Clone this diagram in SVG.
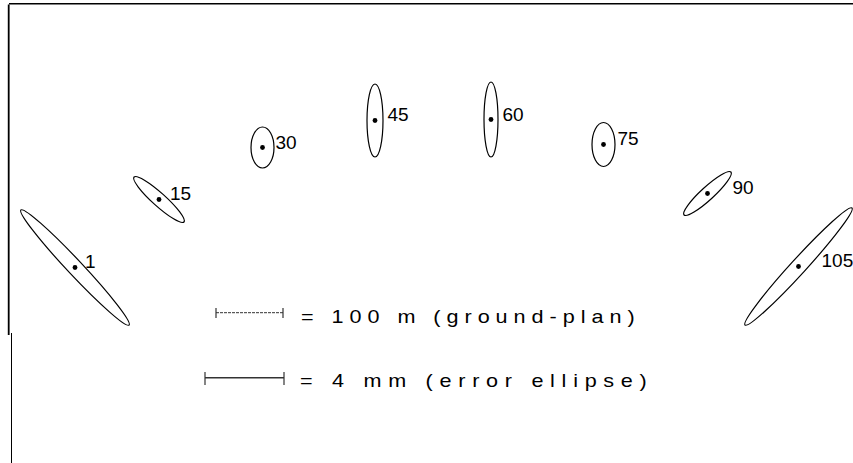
<svg xmlns="http://www.w3.org/2000/svg" width="853" height="463" viewBox="0 0 853 463">
<style>
.el{fill:none;stroke:#000;stroke-width:1.2}
.dot{fill:#000}
.lbl{font-family:"Liberation Sans",Arial,sans-serif;font-size:19px;fill:#000}
.leg{font-family:"Liberation Sans",Arial,sans-serif;font-size:18px;fill:#000}
.frame{stroke:#000;fill:none}
.bar{stroke:#333;fill:none}
</style>
<rect width="853" height="463" fill="#fff"/>
<g id="frame">
<line class="frame" x1="9" y1="3.8" x2="853" y2="3.8" stroke-width="1.6"/>
<line class="frame" x1="8.7" y1="4.5" x2="8.7" y2="335" stroke-width="1.8"/>
<line class="frame" x1="11.5" y1="333" x2="11.5" y2="463" stroke-width="1"/>
</g>
<g id="p1">
<ellipse class="el" cx="75" cy="267.5" rx="79" ry="7.5" transform="rotate(46.8 75 267.5)"/>
<circle class="dot" cx="75" cy="267.5" r="2.4"/>
<text class="lbl" x="85" y="268">1</text>
</g>
<g id="p15">
<ellipse class="el" cx="159" cy="199.5" rx="33.6" ry="6.5" transform="rotate(42 159 199.5)"/>
<circle class="dot" cx="159" cy="199.5" r="2.4"/>
<text class="lbl" x="170" y="200">15</text>
</g>
<g id="p30">
<ellipse class="el" cx="262.5" cy="147.5" rx="11.5" ry="20.5"/>
<circle class="dot" cx="262.5" cy="147.5" r="2.4"/>
<text class="lbl" x="275.5" y="149">30</text>
</g>
<g id="p45">
<ellipse class="el" cx="375" cy="120.5" rx="8" ry="36.5"/>
<circle class="dot" cx="375" cy="120.5" r="2.4"/>
<text class="lbl" x="387.5" y="121">45</text>
</g>
<g id="p60">
<ellipse class="el" cx="491" cy="119.5" rx="7" ry="37.5"/>
<circle class="dot" cx="491" cy="119.5" r="2.4"/>
<text class="lbl" x="502.5" y="121">60</text>
</g>
<g id="p75">
<ellipse class="el" cx="603.5" cy="144.5" rx="11.5" ry="22"/>
<circle class="dot" cx="603.5" cy="144.5" r="2.4"/>
<text class="lbl" x="617.5" y="145">75</text>
</g>
<g id="p90">
<ellipse class="el" cx="707.5" cy="193.5" rx="31.8" ry="6.5" transform="rotate(-42.5 707.5 193.5)"/>
<circle class="dot" cx="707.5" cy="193.5" r="2.4"/>
<text class="lbl" x="732.5" y="194">90</text>
</g>
<g id="p105">
<ellipse class="el" cx="798.5" cy="266.5" rx="79.3" ry="7.5" transform="rotate(-47.6 798.5 266.5)"/>
<circle class="dot" cx="798.5" cy="266.5" r="2.4"/>
<text class="lbl" x="821.5" y="267">105</text>
</g>
<g id="legend1">
<line class="bar" x1="216" y1="312.7" x2="283" y2="312.7" stroke-width="1" stroke-dasharray="3 1"/>
<line class="bar" x1="216" y1="308" x2="216" y2="318" stroke-width="1.2"/>
<line class="bar" x1="283" y1="308" x2="283" y2="318" stroke-width="1.2"/>
<text class="leg" transform="translate(301 323) scale(1.2 1)" x="0" y="0" textLength="278" lengthAdjust="spacing">= 100 m (ground-plan)</text>
</g>
<g id="legend2">
<line class="bar" x1="205" y1="377.7" x2="284" y2="377.7" stroke-width="1.4"/>
<line class="bar" x1="205" y1="372" x2="205" y2="385" stroke-width="1.2"/>
<line class="bar" x1="284" y1="372" x2="284" y2="385" stroke-width="1.2"/>
<text class="leg" transform="translate(300 387) scale(1.2 1)" x="0" y="0" textLength="289" lengthAdjust="spacing">= 4 mm (error ellipse)</text>
</g>
</svg>
